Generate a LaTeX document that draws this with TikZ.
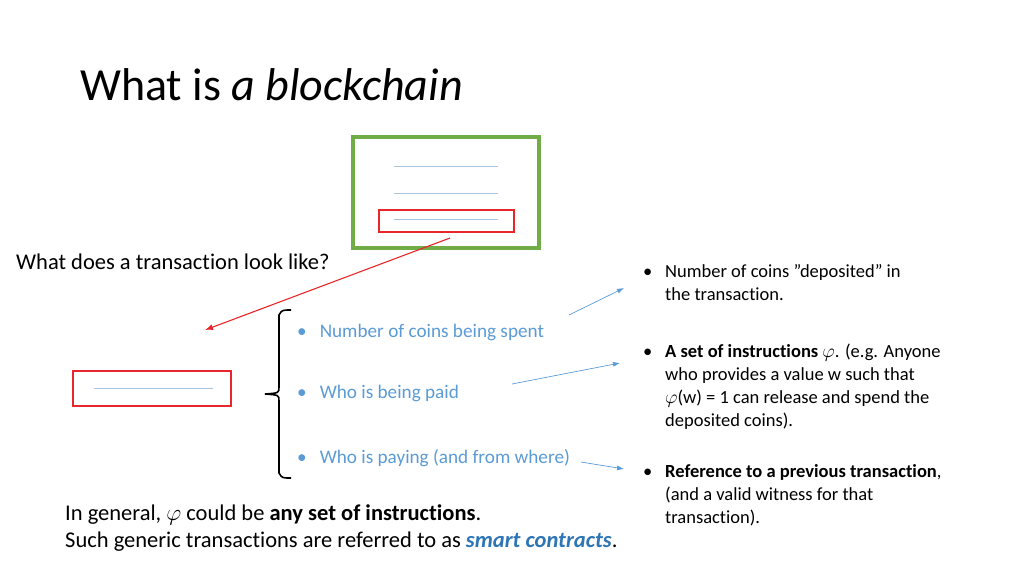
\documentclass[tikz,border=0pt]{standalone}
\usepackage{fontspec}
\setmainfont{Carlito}[Ligatures=NoCommon]
\usetikzlibrary{arrows.meta}
\definecolor{tgreen}{HTML}{70AD47}
\definecolor{tred}{HTML}{E8262B}
\definecolor{tblue}{HTML}{5B9BD5}
\definecolor{lblue}{HTML}{A9C4E2}
\definecolor{sblue}{HTML}{2E75B6}
\newcommand{\myphi}{\scalebox{1.12}{$\varphi$}}
\begin{document}
\begin{tikzpicture}[x=1pt,y=-1pt,
  body/.style={anchor=base west,inner sep=0pt,font=\fontsize{22.5}{27}\selectfont},
  btxt/.style={anchor=base west,inner sep=0pt,font=\fontsize{19.2}{23}\selectfont,text=tblue},
  rtxt/.style={anchor=base west,inner sep=0pt,font=\fontsize{18.5}{23}\selectfont},
  field/.style={lblue,line width=0.8pt},
  redbox/.style={draw=tred,line width=1.5pt},
  blarrow/.style={tblue,line width=0.7pt,-{Latex[length=7pt,width=5pt]}},
  rdarrow/.style={tred,line width=1.1pt,-{Latex[length=8pt,width=6pt]}}]
\useasboundingbox (0,0) rectangle (1024,576);
% title
\node[anchor=base west,inner sep=0pt,font=\fontsize{46}{52}\selectfont] (title) at (80,100) {What is \textit{a blockchain}};
% block
\node[draw=tgreen,line width=4pt,minimum width=186pt,minimum height=111pt,inner sep=0pt] (block) at (446,192.5) {};
\draw[field] (394,166) coordinate (f1a) -- (498,166) coordinate (f1b);
\draw[field] (394,193) coordinate (f2a) -- (498,193) coordinate (f2b);
\draw[field] (394,219) coordinate (f3a) -- (498,219) coordinate (f3b);
\node[redbox,minimum width=135pt,minimum height=22pt,inner sep=0pt] (tx) at (446.5,221) {};
\coordinate (txs) at (450,238);
\coordinate (txe) at (205,330);
\draw[rdarrow] (txs) -- (txe);
% question
\node[body] (q) at (16,269) {What does a transaction look like?};
% left tx
\node[redbox,minimum width=158pt,minimum height=35pt,inner sep=0pt] (ltx) at (152,388.5) {};
\draw[field] (94,388) coordinate (l1a) -- (213,388) coordinate (l1b);
% brace
\coordinate (bt) at (291,310);
\coordinate (bb) at (291,478);
\coordinate (btip) at (265,394);
\draw[line width=1.6pt] (bt) .. controls (282,310) .. (279,315) -- (279,387) .. controls (279,393) .. (btip)
  (btip) .. controls (279,395) .. (279,401) -- (279,473) .. controls (282,478) .. (bb);
% blue bullets
\node[btxt] (b1) at (297,337) {\textbullet\hspace{13pt}Number of coins being spent};
\node[btxt] (b2) at (297,398) {\textbullet\hspace{13pt}Who is being paid};
\node[btxt] (b3) at (297,463) {\textbullet\hspace{13pt}Who is paying (and from where)};
% right text
\node[rtxt] (r1b) at (643,277) {\textbullet};
\node[rtxt] (r1a) at (665,277) {Number of coins ”deposited” in};
\node[rtxt] (r1c) at (665,300) {the transaction.};
\node[rtxt] (r2b) at (643,357) {\textbullet};
\node[rtxt] (r2a) at (665,357) {\textbf{A set of instructions} \myphi. (e.g. Anyone};
\node[rtxt] (r2c) at (665,380) {who provides a value w such that};
\node[rtxt] (r2d) at (665,403) {\myphi(w) = 1 can release and spend the};
\node[rtxt] (r2e) at (665,426) {deposited coins).};
\node[rtxt] (r3b) at (643,477) {\textbullet};
\node[rtxt] (r3a) at (665,477) {\textbf{Reference to a previous transaction},};
\node[rtxt] (r3c) at (665,500) {(and a valid witness for that};
\node[rtxt] (r3d) at (665,523) {transaction).};
% blue arrows
\coordinate (a1s) at (569,315); \coordinate (a1e) at (624,288);
\coordinate (a2s) at (512,384); \coordinate (a2e) at (620,363);
\coordinate (a3s) at (581,462); \coordinate (a3e) at (624,469);
\draw[blarrow] (a1s) -- (a1e);
\draw[blarrow] (a2s) -- (a2e);
\draw[blarrow] (a3s) -- (a3e);
% bottom
\node[body] (g1) at (65,520) {In general, \myphi{} could be \textbf{any set of instructions}.};
\node[body] (g2) at (65,547) {Such generic transactions are referred to as \textcolor{sblue}{\textbf{\textit{smart contracts}}}.};
\end{tikzpicture}
\end{document}
